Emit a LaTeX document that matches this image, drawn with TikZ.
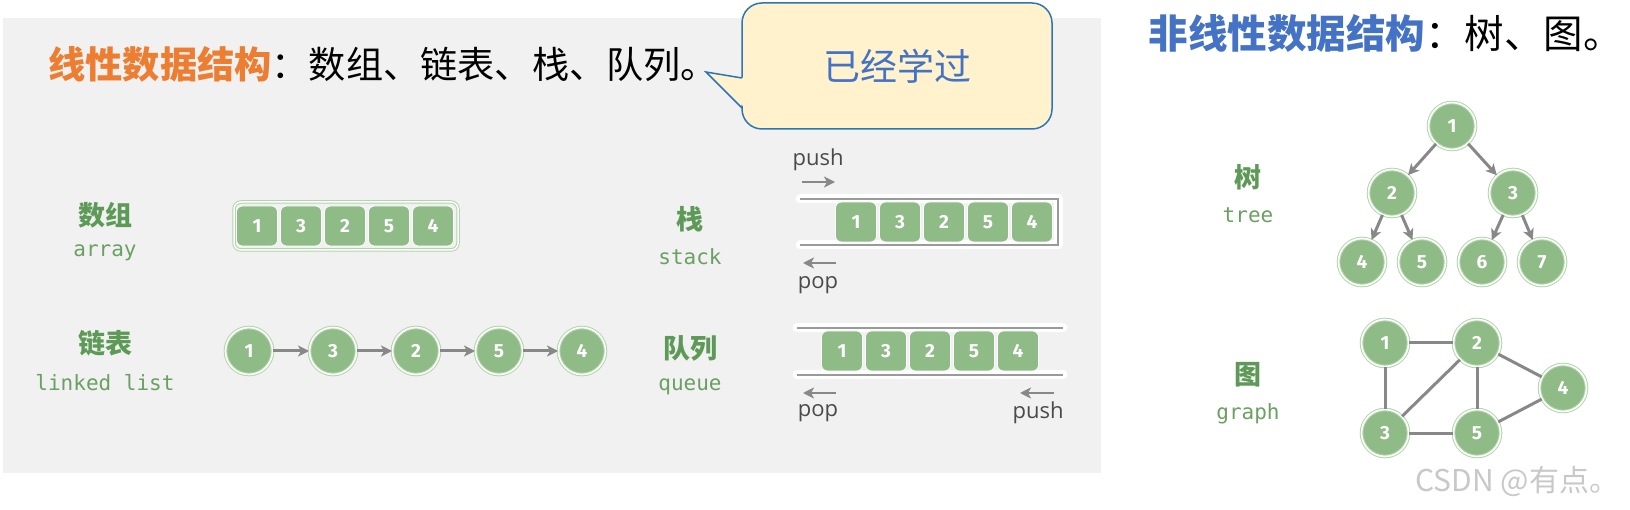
\documentclass[tikz,border=0pt]{standalone}
\usepackage{fontspec}
\usepackage{tikz}
\usetikzlibrary{arrows.meta}
\setmainfont{Noto Sans CJK SC}
\setmonofont{DejaVu Sans Mono}
\newfontfamily\numfont{Fira Sans}
\newfontfamily\opfont{Open Sans}

\definecolor{panelgray}{HTML}{F1F1F1}
\definecolor{hlorange}{HTML}{ED7D31}
\definecolor{hlblue}{HTML}{4472C4}
\definecolor{notefill}{HTML}{FFF2CC}
\definecolor{noteline}{HTML}{2E75B6}
\definecolor{cellgreen}{HTML}{8FBB86}
\definecolor{ringgreen}{HTML}{B3D5AC}
\definecolor{labelgreen}{HTML}{5E9A57}
\definecolor{monogreen}{HTML}{6AA062}
\definecolor{arrowgray}{HTML}{888888}
\definecolor{railgray}{HTML}{9A9A9A}
\definecolor{textgray}{HTML}{4A4A4A}
\definecolor{markgray}{HTML}{C8C8C8}

\tikzset{
    cell/.style={rectangle, rounded corners=6pt, fill=cellgreen, draw=white, line width=0.8pt,
        minimum width=41pt, minimum height=40pt, inner sep=0pt, text=white,
        font=\numfont\bfseries\fontsize{19}{19}\selectfont},
    vertex/.style={circle, fill=cellgreen, draw=ringgreen, double=white, double distance=1.6pt,
        line width=1pt, minimum size=47pt, inner sep=0pt, text=white,
        font=\numfont\bfseries\fontsize{19}{19}\selectfont},
    link/.style={draw=arrowgray, line width=3pt, -{Stealth[length=11pt,width=11pt,inset=3pt]}},
    edge/.style={draw=arrowgray, line width=3pt},
    cnlabel/.style={text=labelgreen, font=\bfseries\fontsize{27}{27}\selectfont},
    enlabel/.style={text=monogreen, font=\ttfamily\fontsize{21}{21}\selectfont},
    oplabel/.style={text=textgray, font=\opfont\fontsize{22}{22}\selectfont},
    halo/.style={draw=white, line width=9pt, line cap=round, line join=round},
    rail/.style={draw=railgray, line width=1.4pt}
}

\begin{document}
\begin{tikzpicture}[x=1pt, y=-1pt]
            \useasboundingbox (0,0) rectangle (1630,510);
            \fill[panelgray] (3,18) rectangle (1101,473);

            \node[anchor=west, font=\fontsize{37.2}{40}\selectfont] (lintitle) at (45,64)
                {{\color{hlorange}\bfseries 线性数据结构}：数组、链表、栈、队列。};
            \node[anchor=west, font=\fontsize{39.5}{40}\selectfont] (nontitle) at (1145,34)
                {{\color{hlblue}\bfseries 非线性数据结构}：树、图。};

            \draw[fill=notefill, draw=noteline, line width=1.5pt, rounded corners=20pt]
                (742,3) rectangle (1052,129);
            \fill[notefill] (745,78) -- (706,72) -- (745,108) -- cycle;
            \draw[draw=noteline, line width=1.5pt, line join=miter] (742,78) -- (706,72) -- (742,108);
            \node[text=hlblue, font=\fontsize{37}{37}\selectfont] (note) at (897,66) {已经学过};

            \node[cnlabel] (arrcn) at (105,215) {数组};
            \node[enlabel] (arren) at (105,253) {array};
            \node[cnlabel] (lstcn) at (105,343) {链表};
            \node[enlabel] (lsten) at (105,383) {linked list};
            \node[cnlabel] (stkcn) at (690,219) {栈};
            \node[enlabel] (stken) at (690,257) {stack};
            \node[cnlabel] (quecn) at (690,348) {队列};
            \node[enlabel] (queen) at (690,387) {queue};
            \node[cnlabel] (treecn) at (1248,177) {树};
            \node[enlabel] (treeen) at (1248,215) {tree};
            \node[cnlabel] (grfcn) at (1248,375) {图};
            \node[enlabel] (grfen) at (1248,414) {graph};

            \node[draw=ringgreen, double=white, double distance=1.5pt, line width=1pt, rounded corners=7pt,
                minimum width=224pt, minimum height=48pt] (arrbox) at (346,226) {};
            \node[cell] (a1) at (257,226) {1};
            \node[cell] (a2) at (301,226) {3};
            \node[cell] (a3) at (345,226) {2};
            \node[cell] (a4) at (389,226) {5};
            \node[cell] (a5) at (433,226) {4};

            \node[vertex] (l1) at (249,351) {1};
            \node[vertex] (l2) at (333,351) {3};
            \node[vertex] (l3) at (416,351) {2};
            \node[vertex] (l4) at (499,351) {5};
            \node[vertex] (l5) at (582,351) {4};
            \draw[link] (l1) -- (l2);
            \draw[link] (l2) -- (l3);
            \draw[link] (l3) -- (l4);
            \draw[link] (l4) -- (l5);

            \draw[halo] (800,199) -- (1058,199) -- (1058,245) -- (800,245);
            \draw[rail] (800,199) -- (1058,199) -- (1058,245) -- (800,245);
            \node[cell] (s1) at (856,222) {1};
            \node[cell] (s2) at (900,222) {3};
            \node[cell] (s3) at (944,222) {2};
            \node[cell] (s4) at (988,222) {5};
            \node[cell] (s5) at (1032,222) {4};
            \node[oplabel] (spush) at (818,160) {push};
            \coordinate (spushA) at (802,182);
            \coordinate (spushB) at (835,182);
            \draw[link, line width=2.5pt] (spushA) -- (spushB);
            \coordinate (spopA) at (836,263);
            \coordinate (spopB) at (803,263);
            \draw[link, line width=2.5pt] (spopA) -- (spopB);
            \node[oplabel] (spop) at (818,285) {pop};

            \draw[halo] (797,328) -- (1063,328);
            \draw[halo] (797,375) -- (1063,375);
            \draw[rail] (797,328) -- (1063,328);
            \draw[rail] (797,375) -- (1063,375);
            \node[cell] (q1) at (842,351) {1};
            \node[cell] (q2) at (886,351) {3};
            \node[cell] (q3) at (930,351) {2};
            \node[cell] (q4) at (974,351) {5};
            \node[cell] (q5) at (1018,351) {4};
            \coordinate (qpopA) at (836,393);
            \coordinate (qpopB) at (803,393);
            \draw[link, line width=2.5pt] (qpopA) -- (qpopB);
            \node[oplabel] (qpop) at (818,413) {pop};
            \coordinate (qpushA) at (1054,393);
            \coordinate (qpushB) at (1020,393);
            \draw[link, line width=2.5pt] (qpushA) -- (qpushB);
            \node[oplabel] (qpush) at (1038,413) {push};

            \node[vertex] (t1) at (1452,126) {1};
            \node[vertex] (t2) at (1392,193) {2};
            \node[vertex] (t3) at (1513,193) {3};
            \node[vertex] (t4) at (1362,262) {4};
            \node[vertex] (t5) at (1422,262) {5};
            \node[vertex] (t6) at (1482,262) {6};
            \node[vertex] (t7) at (1542,262) {7};
            \draw[link] (t1) -- (t2);
            \draw[link] (t1) -- (t3);
            \draw[link] (t2) -- (t4);
            \draw[link] (t2) -- (t5);
            \draw[link] (t3) -- (t6);
            \draw[link] (t3) -- (t7);

            \node[vertex] (g1) at (1385,343) {1};
            \node[vertex] (g2) at (1477,343) {2};
            \node[vertex] (g4) at (1563,388) {4};
            \node[vertex] (g3) at (1385,433) {3};
            \node[vertex] (g5) at (1477,433) {5};
            \draw[edge] (g1) -- (g2);
            \draw[edge] (g1) -- (g3);
            \draw[edge] (g3) -- (g2);
            \draw[edge] (g2) -- (g5);
            \draw[edge] (g2) -- (g4);
            \draw[edge] (g3) -- (g5);
            \draw[edge] (g5) -- (g4);

            \node[anchor=west, text=markgray, font=\fontsize{30}{30}\selectfont] (mark) at (1412,481) {CSDN @有点。};
        \end{tikzpicture}
\end{document}
